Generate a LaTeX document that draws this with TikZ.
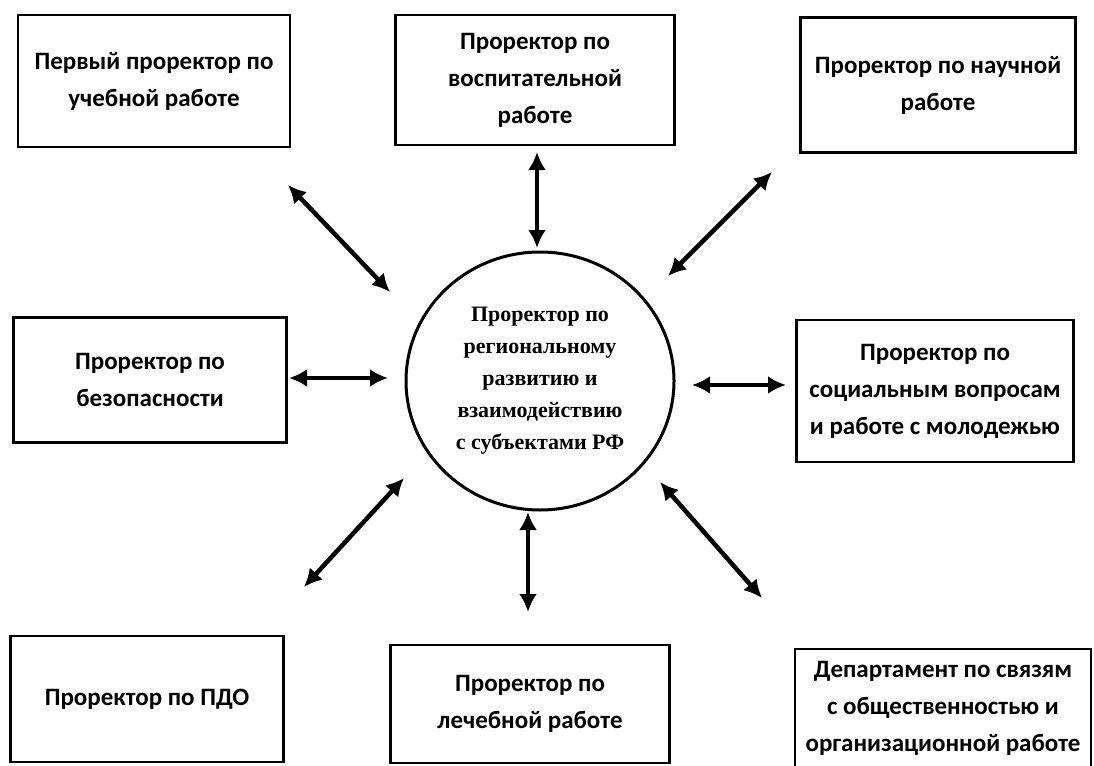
\documentclass[tikz,border=0pt]{standalone}
\usepackage{fontspec}
\setmainfont{Carlito}
\newfontfamily\circfont{Liberation Serif}
\usetikzlibrary{arrows.meta,shapes.geometric}
\tikzset{
  unitbox/.style={draw, line width=2.6pt, rectangle, align=center, inner sep=0pt,
    font=\fontsize{25}{37}\selectfont\bfseries},
  hub/.style={draw, line width=3pt, ellipse, minimum width=268pt, minimum height=258pt, align=center, inner sep=0pt,
    font=\circfont\fontsize{22}{32}\selectfont\bfseries},
  link/.style={line width=4.5pt, {Latex[length=18pt,width=18pt]}-{Latex[length=18pt,width=18pt]}}
}
\begin{document}
\begin{tikzpicture}[x=1pt,y=-1pt]
\useasboundingbox (0,0) rectangle (1094,765);
\node[hub] (c) at (540,381) {Проректор по\\региональному\\развитию и\\взаимодействию\\с субъектами РФ};
\node[unitbox, minimum width=272pt, minimum height=132pt] (tl) at (154,81) {Первый проректор по\\учебной работе};
\node[unitbox, minimum width=279pt, minimum height=130pt] (tc) at (535,80) {Проректор по\\воспитательной\\работе};
\node[unitbox, minimum width=275pt, minimum height=135pt] (tr) at (938,85) {Проректор по научной\\работе};
\node[unitbox, minimum width=273pt, minimum height=125pt] (ml) at (150,380) {Проректор по\\безопасности};
\node[unitbox, minimum width=277pt, minimum height=142pt] (mr) at (935,391) {Проректор по\\социальным вопросам\\и работе с молодежью};
\node[unitbox, minimum width=273pt, minimum height=126pt] (bl) at (147,699) {Проректор по ПДО};
\node[unitbox, minimum width=279pt, minimum height=118pt] (bc) at (530,704) {Проректор по\\лечебной работе};
\node[unitbox, minimum width=296pt, minimum height=118pt] (br) at (943,708) {Департамент по связям\\с общественностью и\\организационной работе};
\coordinate (a1) at (288,185); \coordinate (b1) at (390,292);
\coordinate (a2) at (537,152); \coordinate (b2) at (537,248);
\coordinate (a3) at (772,172); \coordinate (b3) at (668,276);
\coordinate (a4) at (289,378); \coordinate (b4) at (388,378);
\coordinate (a5) at (786,385); \coordinate (b5) at (692,385);
\coordinate (a6) at (304,587); \coordinate (b6) at (404,478);
\coordinate (a7) at (528,612); \coordinate (b7) at (528,512);
\coordinate (a8) at (762,598); \coordinate (b8) at (660,482);
\foreach \i in {1,...,8} \draw[link] (a\i) -- (b\i);
\end{tikzpicture}
\end{document}
